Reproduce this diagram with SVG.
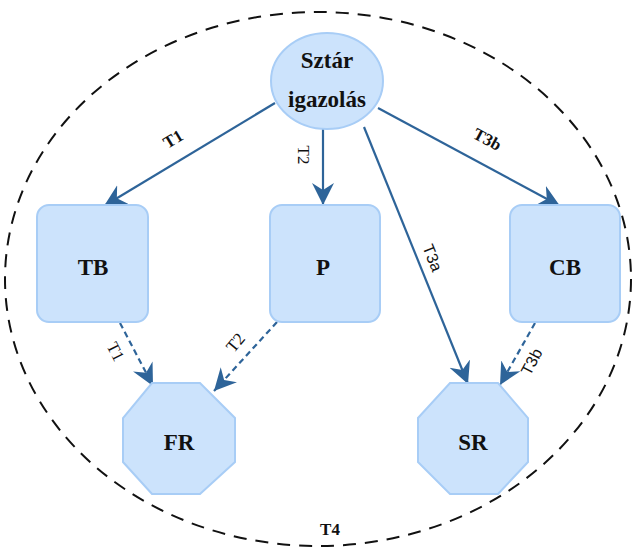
<svg xmlns="http://www.w3.org/2000/svg" width="636" height="550" viewBox="0 0 636 550">
<defs>
<style>
.node{fill:#cce3fc;stroke:#a8cdf6;stroke-width:2}
.nl{font-family:"Liberation Serif",serif;font-weight:bold;font-size:23px;fill:#111;text-anchor:middle}
.el{font-family:"Liberation Serif",serif;font-size:17px;fill:#111;text-anchor:middle}
.els{font-family:"Liberation Sans",Arial,sans-serif;font-size:16px;fill:#111;text-anchor:middle}
.e{stroke:#2e6499;stroke-width:2.2;fill:none;marker-end:url(#ah)}
.d{stroke-dasharray:6,4}
</style>
<marker id="ah" markerUnits="userSpaceOnUse" markerWidth="26" markerHeight="24" refX="22" refY="11" orient="auto" viewBox="0 0 26 24">
<path d="M22,11 L0,0 L7,11 L0,22 Z" fill="#2e6499"/>
</marker>
</defs>
<ellipse cx="318" cy="279" rx="313" ry="267" fill="none" stroke="#111" stroke-width="2" stroke-dasharray="13,9"/>
<g id="edges">
<line class="e" x1="275" y1="103" x2="104" y2="206"/>
<line class="e" x1="323" y1="129" x2="323" y2="205"/>
<line class="e" x1="364" y1="127" x2="468" y2="384"/>
<line class="e" x1="378" y1="108" x2="560" y2="206"/>
<line class="e d" x1="120" y1="323" x2="153" y2="386"/>
<line class="e d" x1="277" y1="322" x2="214" y2="391"/>
<line class="e d" x1="535" y1="323" x2="500" y2="385"/>
<text class="el" transform="translate(176,144) rotate(-31)" style="font-weight:bold">T1</text>
<text class="el" transform="translate(303,155) rotate(90)" dy="5">T2</text>
<text class="els" transform="translate(432,258) rotate(68)" dy="5">T3a</text>
<text class="el" transform="translate(487,140) rotate(28)" dy="5" style="font-weight:bold">T3b</text>
<text class="el" transform="translate(115,352) rotate(63)" dy="5">T1</text>
<text class="el" transform="translate(236,343) rotate(-50)" dy="5">T2</text>
<text class="els" transform="translate(532,362) rotate(-62)" dy="5">T3b</text>
</g>
<g id="start"><ellipse class="node" cx="327" cy="81" rx="56" ry="48"/><text class="nl" x="327" y="68">Sztár</text><text class="nl" x="327" y="107">igazolás</text></g>
<g id="TB"><rect class="node" x="37" y="205" width="111" height="117" rx="12"/><text class="nl" x="93" y="275">TB</text></g>
<g id="P"><rect class="node" x="270" y="205" width="110" height="117" rx="12"/><text class="nl" x="323" y="275">P</text></g>
<g id="CB"><rect class="node" x="510" y="205" width="110" height="117" rx="12"/><text class="nl" x="565" y="275">CB</text></g>
<g id="FR"><polygon class="node" points="152,383 200,383 235,418 235,462 200,494 152,494 123,462 123,418"/><text class="nl" x="179" y="450">FR</text></g>
<g id="SR"><polygon class="node" points="450,383 498,383 528,418 528,462 498,494 450,494 418,462 418,418"/><text class="nl" x="473" y="450">SR</text></g>
<text class="nl" x="330" y="535" style="font-size:17px">T4</text>
</svg>
